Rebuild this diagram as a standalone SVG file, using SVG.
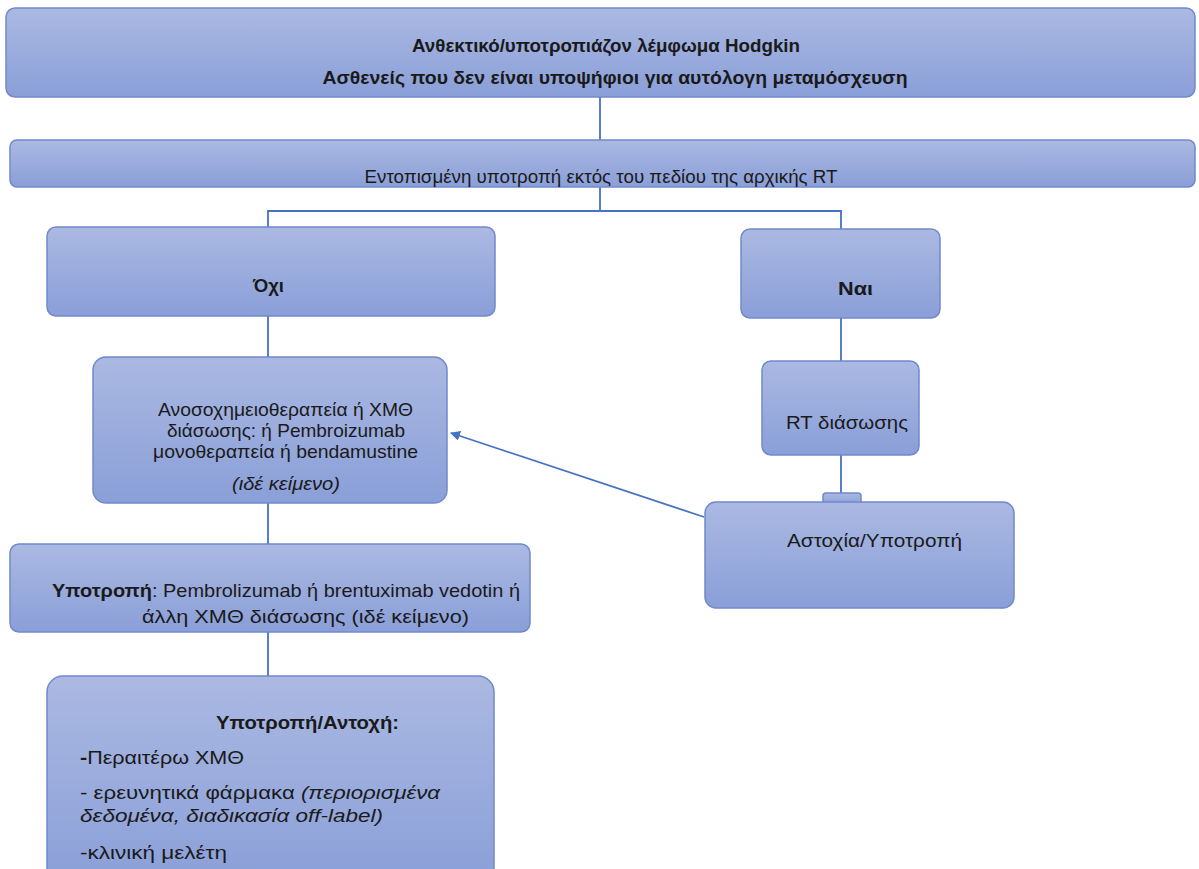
<svg xmlns="http://www.w3.org/2000/svg" width="1199" height="869" viewBox="0 0 1199 869">
  <defs>
    <linearGradient id="boxFill" x1="0" y1="0" x2="0" y2="1">
      <stop offset="0" stop-color="#abb9e2"/>
      <stop offset="1" stop-color="#8a9fd8"/>
    </linearGradient>
    <marker id="arrowHead" viewBox="0 0 10 10" refX="9" refY="5" markerWidth="10" markerHeight="10" markerUnits="userSpaceOnUse" orient="auto">
      <path d="M0,0 L10,5 L0,10 z" fill="#4472c4"/>
    </marker>
  </defs>
  <style>
    .box { fill: url(#boxFill); stroke: #7189cc; stroke-width: 1.5; }
    .conn { fill: none; stroke: #4472c4; stroke-width: 1.8; }
    .t { font-family: "Liberation Sans", "Noto Sans", sans-serif; font-size: 18.5px; fill: #1a1a1a; }
    .b { font-weight: bold; }
    .i { font-style: italic; }
  </style>
  <rect width="1199" height="869" fill="#ffffff"/>

  <!-- connectors -->
  <g id="connectors">
    <line class="conn" x1="600" y1="97" x2="600" y2="140"/>
    <polyline class="conn" points="600,187 600,211 268,211 268,227"/>
    <polyline class="conn" points="600,211 841,211 841,229"/>
    <line class="conn" x1="268" y1="316" x2="268" y2="357"/>
    <line class="conn" x1="841" y1="318" x2="841" y2="361"/>
    <line class="conn" x1="841" y1="455" x2="841" y2="494"/>
    <line class="conn" x1="268" y1="503" x2="268" y2="544"/>
    <line class="conn" x1="268" y1="632" x2="268" y2="676"/>
    <line class="conn" stroke-width="1.4" x1="704" y1="517" x2="451" y2="433" marker-end="url(#arrowHead)"/>
  </g>

  <g id="n-title">
    <rect class="box" x="6" y="8" width="1189" height="89" rx="9"/>
    <text class="t b" x="606" y="52" text-anchor="middle" textLength="388" lengthAdjust="spacingAndGlyphs">Ανθεκτικό/υποτροπιάζον λέμφωμα Hodgkin</text>
    <text class="t b" x="615" y="84" text-anchor="middle" textLength="585" lengthAdjust="spacingAndGlyphs">Ασθενείς που δεν είναι υποψήφιοι για αυτόλογη μεταμόσχευση</text>
  </g>

  <g id="n-local">
    <rect class="box" x="10" y="140" width="1185" height="47" rx="7"/>
    <text class="t" x="601" y="183" text-anchor="middle" textLength="473" lengthAdjust="spacingAndGlyphs">Εντοπισμένη υποτροπή εκτός του πεδίου της αρχικής RT</text>
  </g>

  <g id="n-no">
    <rect class="box" x="47" y="227" width="448" height="89" rx="9"/>
    <text class="t b" x="253" y="292" textLength="31" lengthAdjust="spacingAndGlyphs">Όχι</text>
  </g>

  <g id="n-yes">
    <rect class="box" x="741" y="229" width="199" height="89" rx="9"/>
    <text class="t b" x="838" y="295" textLength="35" lengthAdjust="spacingAndGlyphs">Ναι</text>
  </g>

  <g id="n-chemo">
    <rect class="box" x="93" y="357" width="354" height="146" rx="13"/>
    <text class="t" x="158" y="416" textLength="255" lengthAdjust="spacingAndGlyphs">Ανοσοχημειοθεραπεία ή ΧΜΘ</text>
    <text class="t" x="167" y="437" textLength="238" lengthAdjust="spacingAndGlyphs">διάσωσης: ή Pembroizumab</text>
    <text class="t" x="153" y="458" textLength="265" lengthAdjust="spacingAndGlyphs">μονοθεραπεία ή bendamustine</text>
    <text class="t i" x="232" y="490" textLength="108" lengthAdjust="spacingAndGlyphs">(ιδέ κείμενο)</text>
  </g>

  <g id="n-rt">
    <rect class="box" x="762" y="361" width="157" height="94" rx="9"/>
    <text class="t" x="786" y="429" textLength="122" lengthAdjust="spacingAndGlyphs">RT διάσωσης</text>
  </g>

  <g id="n-fail">
    <rect class="box" x="823" y="493" width="38" height="12" rx="3"/>
    <rect class="box" x="705" y="502" width="309" height="106" rx="11"/>
    <text class="t" x="787" y="547" textLength="175" lengthAdjust="spacingAndGlyphs">Αστοχία/Υποτροπή</text>
  </g>

  <g id="n-relapse">
    <rect class="box" x="10" y="544" width="520" height="88" rx="9"/>
    <text class="t" x="52" y="597" textLength="468" lengthAdjust="spacingAndGlyphs"><tspan class="b">Υποτροπή</tspan>: Pembrolizumab ή brentuximab vedotin ή</text>
    <text class="t" x="142" y="623" textLength="327" lengthAdjust="spacingAndGlyphs">άλλη ΧΜΘ διάσωσης (ιδέ κείμενο)</text>
  </g>

  <g id="n-refractory">
    <rect class="box" x="47" y="676" width="447" height="210" rx="16"/>
    <text class="t b" x="216" y="729" textLength="183" lengthAdjust="spacingAndGlyphs">Υποτροπή/Αντοχή:</text>
    <text class="t" x="80" y="764" textLength="164" lengthAdjust="spacingAndGlyphs"><tspan class="b">-</tspan>Περαιτέρω ΧΜΘ</text>
    <text class="t" x="80" y="799" textLength="360" lengthAdjust="spacingAndGlyphs">- ερευνητικά φάρμακα <tspan class="i">(περιορισμένα</tspan></text>
    <text class="t i" x="80" y="822" textLength="303" lengthAdjust="spacingAndGlyphs">δεδομένα, διαδικασία off-label)</text>
    <text class="t" x="80" y="859" textLength="147" lengthAdjust="spacingAndGlyphs">-κλινική μελέτη</text>
  </g>
</svg>
